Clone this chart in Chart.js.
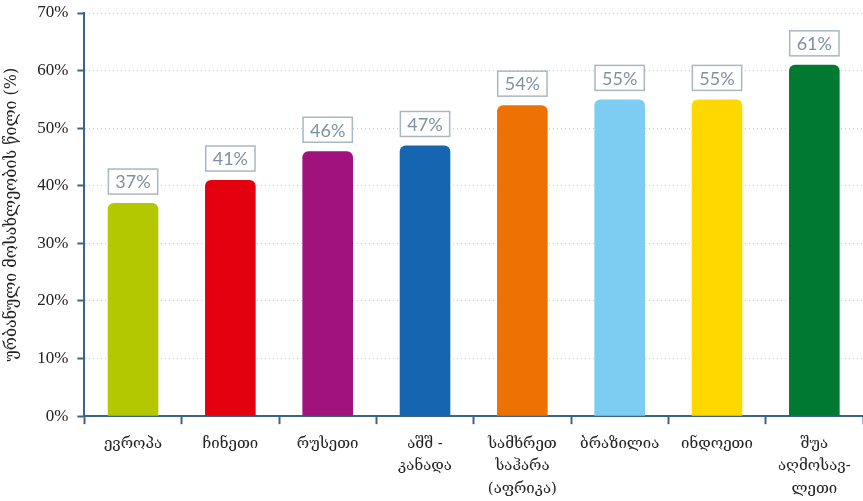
<!DOCTYPE html>
<html>
<head>
<meta charset="utf-8">
<script src="https://cdn.jsdelivr.net/npm/chart.js@4.4.1/dist/chart.umd.min.js"></script>
<style>
  html, body { margin: 0; padding: 0; background: #fff; }
  #wrap { width: 863px; height: 501px; position: relative; }
</style>
</head>
<body>
<div id="wrap"><canvas id="chart"></canvas></div>
<script>
// regions and urban population share (%)
const categories = [
  ['ევროპა'],
  ['ჩინეთი'],
  ['რუსეთი'],
  ['აშშ -', 'კანადა'],
  ['სამხრეთ', 'საჰარა', '(აფრიკა)'],
  ['ბრაზილია'],
  ['ინდოეთი'],
  ['შუა', 'აღმოსავ-', 'ლეთი']
];
const values = [37, 41, 46, 47, 54, 55, 55, 61];
const barColors = ['#b3c800', '#e3000f', '#a1127f', '#1665b1', '#ee7203', '#7dcdf3', '#ffd800', '#007a33'];
const yTicks = [0, 10, 20, 30, 40, 50, 60, 70];
const yTitle = 'ურბანული მოსახლეობის წილი (%)';

// boxed value labels above each bar
const boxLabels = {
  id: 'boxLabels',
  afterDatasetsDraw(chart) {
    const ctx = chart.ctx;
    const meta = chart.getDatasetMeta(0);
    ctx.save();
    ctx.font = '18px Lato, "DejaVu Sans", sans-serif';
    ctx.textAlign = 'center';
    ctx.textBaseline = 'middle';
    meta.data.forEach((bar, i) => {
      const txt = values[i] + '%';
      const w = ctx.measureText(txt).width + 14;
      const h = 25;
      const cx = bar.x;
      const cy = bar.y - 9 - h / 2;
      ctx.fillStyle = '#ffffff';
      ctx.fillRect(cx - w / 2, cy - h / 2, w, h);
      ctx.strokeStyle = '#a9b7c3';
      ctx.lineWidth = 1.5;
      ctx.strokeRect(cx - w / 2, cy - h / 2, w, h);
      ctx.fillStyle = '#7f91a1';
      ctx.fillText(txt, cx, cy + 1);
    });
    ctx.restore();
  }
};

const ctx = document.getElementById('chart').getContext('2d');
new Chart(ctx, {
  type: 'bar',
  data: {
    labels: categories,
    datasets: [{
      data: values,
      backgroundColor: barColors,
      borderRadius: { topLeft: 6, topRight: 6 },
      borderSkipped: 'bottom',
      barPercentage: 0.52,
      categoryPercentage: 1
    }]
  },
  options: {
    responsive: true,
    maintainAspectRatio: false,
    animation: false,
    layout: { padding: { top: 13, right: 0, left: 2, bottom: -8 } },
    plugins: {
      legend: { display: false },
      tooltip: { enabled: false }
    },
    scales: {
      x: {
        grid: {
          display: true,
          drawOnChartArea: false,
          offset: true,
          tickLength: 8,
          tickColor: '#3d6482',
          tickWidth: 2
        },
        border: { color: '#3d6482', width: 2 },
        ticks: {
          color: '#222',
          font: { family: '"DejaVu Serif", serif', size: 15, lineHeight: 1.53 },
          padding: 8,
          maxRotation: 0,
          autoSkip: false
        }
      },
      y: {
        min: 0,
        max: 70,
        afterBuildTicks(axis) {
          axis.ticks = yTicks.map(v => ({ value: v }));
        },
        afterFit(axis) {
          axis.paddingTop = 0;
        },
        grid: {
          color: '#c4cad0',
          tickBorderDash: [],
          tickColor: '#3d6482',
          tickLength: 7,
          tickWidth: 2
        },
        border: { color: '#3d6482', width: 2, dash: [1, 3] },
        ticks: {
          color: '#222',
          font: { family: '"Liberation Serif", serif', size: 17 },
          padding: 9,
          callback: v => v + '%'
        },
        title: {
          display: true,
          text: yTitle,
          color: '#222',
          font: { family: '"DejaVu Serif", serif', size: 16 },
          padding: { top: 0, bottom: 7 }
        }
      }
    }
  },
  plugins: [boxLabels]
});
</script>
</body>
</html>
